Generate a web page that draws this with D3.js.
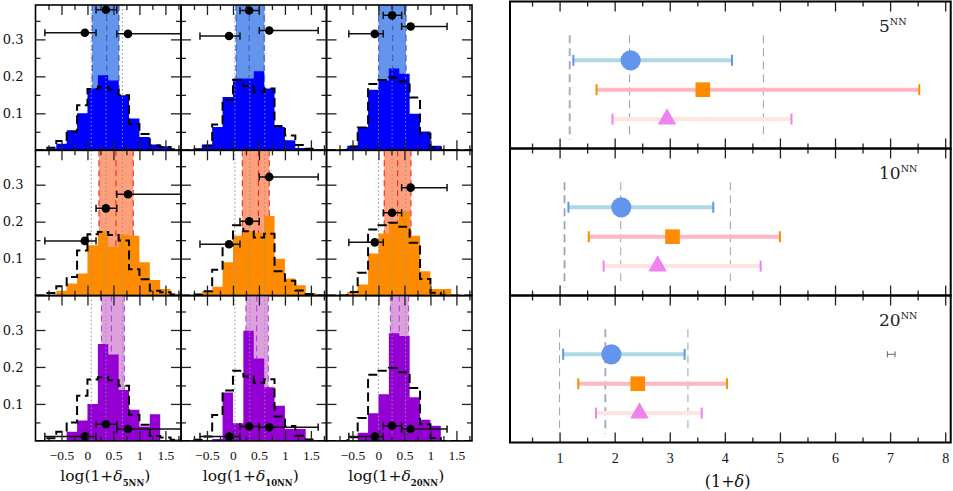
<!DOCTYPE html>
<html>
<head>
<meta charset="utf-8">
<script src="https://cdn.jsdelivr.net/npm/d3@7/dist/d3.min.js"></script>
<style>
html,body{margin:0;padding:0;background:#fff;}
svg{display:block;}
</style>
</head>
<body>
<svg id="chart" width="953" height="491"></svg>
<script>
// ================= DATA =================
const binStarts = [-1.0,-0.8,-0.6,-0.4,-0.2,0.0,0.2,0.4,0.6,0.8,1.0,1.2,1.4,1.6];
const binWidth = 0.2;
const neighbourLabels = ["5NN","10NN","20NN"];
const rowTagNumbers = ["5","10","20"];

// filled histograms (fraction per bin)
const histBlue5NN    = [0,0.005,0.018,0.054,0.100,0.167,0.203,0.189,0.149,0.086,0.036,0.016,0.011,0.002];
const histBlue10NN   = [0,0.002,0.016,0.063,0.144,0.194,0.194,0.214,0.167,0.063,0.027,0.006,0.003,0];
const histBlue20NN   = [0,0,0.012,0.063,0.164,0.189,0.221,0.207,0.099,0.051,0.012,0.003,0,0];
const histOrange5NN  = [0,0.002,0.013,0.033,0.060,0.136,0.174,0.132,0.165,0.162,0.090,0.042,0.018,0.005];
const histOrange10NN = [0,0,0.012,0.024,0.090,0.162,0.175,0.170,0.215,0.100,0.046,0.028,0.007,0.003];
const histOrange20NN = [0,0,0.010,0.030,0.114,0.168,0.200,0.228,0.162,0.066,0.018,0.018,0,0];
const histViolet5NN  = [0,0,0,0.025,0.055,0.100,0.262,0.234,0.138,0.084,0.039,0.072,0,0.004];
const histViolet10NN = [0,0,0,0.005,0.131,0.048,0.298,0.223,0.145,0.095,0.032,0.032,0,0];
const histViolet20NN = [0,0,0,0.022,0.075,0.126,0.291,0.284,0.118,0.057,0.041,0,0,0];
// dashed (whole sample) histograms, one per column
const histAll5NN  = [0,0.007,0.025,0.050,0.122,0.166,0.172,0.164,0.149,0.071,0.044,0.013,0.009,0.003];
const histAll10NN = [0,0.003,0.012,0.070,0.136,0.190,0.174,0.157,0.167,0.066,0.040,0.014,0.004,0];
const histAll20NN = [0,0,0.010,0.062,0.179,0.190,0.197,0.186,0.143,0.045,0.008,0,0,0];

// shaded bands (log units) per row, columns 5NN/10NN/20NN
const bandBlueLo   = [0.092,0.058,0.004];
const bandBlueMid  = [0.369,0.313,0.273];
const bandBlueHi   = [0.606,0.602,0.530];
const bandOrangeLo = [0.221,0.180,0.111];
const bandOrangeMid= [0.548,0.490,0.369];
const bandOrangeHi = [0.881,0.698,0.625];
const bandVioletLo = [0.270,0.250,0.230];
const bandVioletMid= [0.460,0.456,0.400];
const bandVioletHi = [0.710,0.680,0.580];

// black points: x position and x-range per column (low / mid / high)
const ptX5NN  = [-0.050,0.355,0.780];
const ptLo5NN = [-0.820,0.165,0.565];
const ptHi5NN = [0.165,0.565,1.950];
const ptX10NN  = [-0.075,0.312,0.698];
const ptLo10NN = [-0.635,0.135,0.506];
const ptHi10NN = [0.135,0.506,1.640];
const ptX20NN  = [-0.070,0.262,0.619];
const ptLo20NN = [-0.570,0.092,0.446];
const ptHi20NN = [0.092,0.446,1.320];
// point heights per panel
const ptYBlue5NN    = [0.318,0.380,0.315];
const ptYBlue10NN   = [0.309,0.378,0.324];
const ptYBlue20NN   = [0.315,0.365,0.335];
const ptYOrange5NN  = [0.148,0.236,0.274];
const ptYOrange10NN = [0.139,0.201,0.321];
const ptYOrange20NN = [0.144,0.224,0.292];
const ptYViolet5NN  = [0.012,0.045,0.032];
const ptYViolet10NN = [0.012,0.039,0.037];
const ptYViolet20NN = [0.012,0.041,0.032];

// right panel (1+delta)
const densCircle    = [2.29,2.12,1.94];
const densCircleLo  = [1.25,1.16,1.065];
const densCircleHi  = [4.13,3.79,3.27];
const densSquare    = [3.60,3.05,2.42];
const densSquareLo  = [1.67,1.53,1.34];
const densSquareHi  = [7.53,5.00,4.04];
const densTriangle  = [2.95,2.78,2.45];
const densTriangleLo= [1.96,1.80,1.66];
const densTriangleHi= [5.21,4.65,3.58];
const refLo    = [1.185,1.09,1.00];
const refMid   = [2.27,2.11,1.83];
const refHi    = [4.70,4.10,3.33];
const refThick = [1.185,1.09,1.83];
const typErrX = [7.02], typErrLo = [6.95], typErrHi = [7.09];

// ticks
const xTickMajorLeft  = [-0.5,0,0.5,1,1.5];
const xTickMinorLeft  = [-0.75,-0.25,0.25,0.75,1.25,1.75];
const yTickMajorLeft  = [0.1,0.2,0.3];
const yTickMinorLeft  = [0.05,0.15,0.25,0.35];
const xTickMajorRight = [1,2,3,4,5,6,7,8];
const xTickMinorRight = [0.5,1.5,2.5,3.5,4.5,5.5,6.5,7.5];

// ================= STYLE / LAYOUT =================
const FONT = "'DejaVu Serif', 'Liberation Serif', serif";
const TICKFONT = "'Liberation Serif', 'DejaVu Serif', serif";
const rowFill     = ["#0000ff","#ff8c00","#9400d3"];
const rowBand     = ["#6495ed","#ffa07a","#dda0dd"];
const rowBandLine = ["#2f4fd6","#e8282b","#b040e0"];

const fillHists = [[histBlue5NN,histBlue10NN,histBlue20NN],
                   [histOrange5NN,histOrange10NN,histOrange20NN],
                   [histViolet5NN,histViolet10NN,histViolet20NN]];
const allHists = [histAll5NN,histAll10NN,histAll20NN];
const bandLo  = [bandBlueLo,bandOrangeLo,bandVioletLo];
const bandMid = [bandBlueMid,bandOrangeMid,bandVioletMid];
const bandHi  = [bandBlueHi,bandOrangeHi,bandVioletHi];
const ptX  = [ptX5NN,ptX10NN,ptX20NN];
const ptLo = [ptLo5NN,ptLo10NN,ptLo20NN];
const ptHi = [ptHi5NN,ptHi10NN,ptHi20NN];
const ptY  = [[ptYBlue5NN,ptYBlue10NN,ptYBlue20NN],
              [ptYOrange5NN,ptYOrange10NN,ptYOrange20NN],
              [ptYViolet5NN,ptYViolet10NN,ptYViolet20NN]];

const svg = d3.select("#chart");
const defs = svg.append("defs");

const LX0 = 35.5, LW = 145.5, LY0 = 5, LH = 145.3;
const XDOM = [-1, 1.8], YDOM = [0, 0.393];

const fmtLeftX = d => d === 0 ? "0" : String(d).replace("-", "\u2212");

function styleAxis(g, fs, fam) {
  g.select(".domain").remove();
  g.attr("font-family", fam || TICKFONT).attr("font-size", fs).attr("color", "#222");
  g.selectAll(".tick line").attr("stroke-width", 1.3);
  g.selectAll(".tick text").attr("fill", "#111");
}

for (let r = 0; r < 3; r++) {
  for (let c = 0; c < 3; c++) {
    const x = d3.scaleLinear().domain(XDOM).range([LX0 + c * LW, LX0 + (c + 1) * LW]);
    const y = d3.scaleLinear().domain(YDOM).range([LY0 + (r + 1) * LH, LY0 + r * LH]);
    const g = svg.append("g");
    const clipId = "clip" + r + c;
    defs.append("clipPath").attr("id", clipId).append("rect")
      .attr("x", x(XDOM[0])).attr("y", y(YDOM[1]))
      .attr("width", x(XDOM[1]) - x(XDOM[0])).attr("height", y(YDOM[0]) - y(YDOM[1]));
    const inner = g.append("g").attr("clip-path", "url(#" + clipId + ")");

    // band
    inner.append("rect")
      .attr("x", x(bandLo[r][c])).attr("width", x(bandHi[r][c]) - x(bandLo[r][c]))
      .attr("y", y(YDOM[1])).attr("height", y(YDOM[0]) - y(YDOM[1]))
      .attr("fill", rowBand[r]);
    [bandLo[r][c], bandMid[r][c], bandHi[r][c]].forEach(v => {
      inner.append("line").attr("x1", x(v)).attr("x2", x(v))
        .attr("y1", y(YDOM[1])).attr("y2", y(0))
        .attr("stroke", rowBandLine[r]).attr("stroke-width", 1.1)
        .attr("stroke-dasharray", "6,4");
    });

    // filled histogram
    const vals = fillHists[r][c];
    const pts = binStarts.map((b, i) => ({x: b, v: vals[i]}));
    pts.push({x: binStarts[binStarts.length - 1] + binWidth, v: vals[vals.length - 1]});
    inner.append("path").datum(pts)
      .attr("d", d3.area().x(d => x(d.x)).y0(y(0)).y1(d => y(d.v)).curve(d3.curveStepAfter))
      .attr("fill", rowFill[r]);

    // dotted reference lines (log of right panel reference values)
    [refLo[c], refMid[c], refHi[c]].forEach(v => {
      const lv = Math.log10(v);
      inner.append("line").attr("x1", x(lv)).attr("x2", x(lv))
        .attr("y1", y(YDOM[1])).attr("y2", y(0))
        .attr("stroke", "#8795a8").attr("stroke-width", 1)
        .attr("stroke-dasharray", "1.5,2.5");
    });

    // dashed whole-sample histogram
    const avals = allHists[c];
    const apts = binStarts.map((b, i) => ({x: b, v: avals[i]}));
    apts.push({x: binStarts[binStarts.length - 1] + binWidth, v: avals[avals.length - 1]});
    inner.append("path").datum(apts)
      .attr("d", d3.line().x(d => x(d.x)).y(d => y(d.v)).curve(d3.curveStepAfter))
      .attr("fill", "none").attr("stroke", "#000").attr("stroke-width", 2)
      .attr("stroke-dasharray", "9,4.5");

    // points with error bars
    for (let k = 0; k < 3; k++) {
      const yy = y(ptY[r][c][k]);
      const x1 = x(ptLo[c][k]), x2 = x(ptHi[c][k]);
      inner.append("line").attr("x1", x1).attr("x2", x2).attr("y1", yy).attr("y2", yy)
        .attr("stroke", "#111").attr("stroke-width", 1.5);
      [x1, x2].forEach(xc => inner.append("line").attr("x1", xc).attr("x2", xc)
        .attr("y1", yy - 3.6).attr("y2", yy + 3.6).attr("stroke", "#111").attr("stroke-width", 1.5));
      inner.append("circle").attr("cx", x(ptX[c][k])).attr("cy", yy).attr("r", 4.3).attr("fill", "#000");
    }

    // axes (ticks inside)
    const bot = g.append("g").attr("transform", "translate(0," + y(0) + ")")
      .call(d3.axisBottom(x).tickValues(xTickMajorLeft).tickSize(-10).tickPadding(10)
        .tickFormat(r === 2 ? fmtLeftX : () => ""));
    styleAxis(bot, 13.5);
    styleAxis(g.append("g").attr("transform", "translate(0," + y(0) + ")")
      .call(d3.axisBottom(x).tickValues(xTickMinorLeft).tickSize(-5).tickFormat(() => "")), 11);
    styleAxis(g.append("g").attr("transform", "translate(0," + y(YDOM[1]) + ")")
      .call(d3.axisTop(x).tickValues(xTickMajorLeft).tickSize(-10).tickFormat(() => "")), 11);
    styleAxis(g.append("g").attr("transform", "translate(0," + y(YDOM[1]) + ")")
      .call(d3.axisTop(x).tickValues(xTickMinorLeft).tickSize(-5).tickFormat(() => "")), 11);
    const lft = g.append("g").attr("transform", "translate(" + x(XDOM[0]) + ",0)")
      .call(d3.axisLeft(y).tickValues(yTickMajorLeft).tickSize(-10).tickPadding(12)
        .tickFormat(c === 0 ? d3.format(".1f") : () => ""));
    styleAxis(lft, 13, FONT);
    styleAxis(g.append("g").attr("transform", "translate(" + x(XDOM[0]) + ",0)")
      .call(d3.axisLeft(y).tickValues(yTickMinorLeft).tickSize(-5).tickFormat(() => "")), 11);
    styleAxis(g.append("g").attr("transform", "translate(" + x(XDOM[1]) + ",0)")
      .call(d3.axisRight(y).tickValues(yTickMajorLeft).tickSize(-10).tickFormat(() => "")), 11);
    styleAxis(g.append("g").attr("transform", "translate(" + x(XDOM[1]) + ",0)")
      .call(d3.axisRight(y).tickValues(yTickMinorLeft).tickSize(-5).tickFormat(() => "")), 11);

    // frame
    g.append("rect").attr("x", x(XDOM[0])).attr("y", y(YDOM[1]))
      .attr("width", x(XDOM[1]) - x(XDOM[0])).attr("height", y(YDOM[0]) - y(YDOM[1]))
      .attr("fill", "none").attr("stroke", "#000").attr("stroke-width", 1.6);

    // x title under bottom row
    if (r === 2) {
      const t = svg.append("text").attr("x", (x(XDOM[0]) + x(XDOM[1])) / 2 - 3).attr("y", 481)
        .attr("text-anchor", "middle").attr("font-family", FONT).attr("font-size", 15.5).attr("fill", "#111");
      t.append("tspan").text("log(1+");
      t.append("tspan").attr("font-style", "italic").text("\u03b4");
      t.append("tspan").attr("font-size", 8.5).attr("font-weight", "bold").attr("dy", 4.5).text(neighbourLabels[c]);
      t.append("tspan").attr("dy", -4.5).text(")");
    }
  }
}

// ================= RIGHT PANEL =================
const RX0 = 510, RX1 = 950.7, RY0 = 1.5, RH = 147;
const xr = d3.scaleLinear().domain([0.1, 8.1]).range([RX0, RX1]);
const markerSpecs = [
  {val: densCircle, lo: densCircleLo, hi: densCircleHi, level: 3, bar: "#add8e6", cap: "#6495ed", fill: "#6495ed", sym: d3.symbolCircle, size: 320},
  {val: densSquare, lo: densSquareLo, hi: densSquareHi, level: 2, bar: "#ffb6c1", cap: "#ff8c00", fill: "#ff8c00", sym: d3.symbolSquare, size: 215},
  {val: densTriangle, lo: densTriangleLo, hi: densTriangleHi, level: 1, bar: "#ffe4e1", cap: "#ee82ee", fill: "#ee82ee", sym: d3.symbolTriangle, size: 150}
];

for (let r = 0; r < 3; r++) {
  const yr = d3.scaleLinear().domain([0, 5]).range([RY0 + (r + 1) * RH, RY0 + r * RH]);
  const g = svg.append("g");

  // reference dashed lines
  g.append("line").attr("x1", xr(refThick[r])).attr("x2", xr(refThick[r]))
    .attr("y1", yr(3.85)).attr("y2", yr(0.3))
    .attr("stroke", "#d2d6da").attr("stroke-width", 2.6).attr("stroke-dasharray", "8,5");
  [refLo[r], refMid[r], refHi[r]].forEach(v => {
    g.append("line").attr("x1", xr(v)).attr("x2", xr(v))
      .attr("y1", yr(3.85)).attr("y2", yr(0.3))
      .attr("stroke", "#9aa2aa").attr("stroke-width", 1).attr("stroke-dasharray", "8,5");
  });

  markerSpecs.forEach(m => {
    const yy = yr(m.level);
    g.append("line").attr("x1", xr(m.lo[r])).attr("x2", xr(m.hi[r])).attr("y1", yy).attr("y2", yy)
      .attr("stroke", m.bar).attr("stroke-width", 4);
    [m.lo[r], m.hi[r]].forEach(v => g.append("line").attr("x1", xr(v)).attr("x2", xr(v))
      .attr("y1", yy - 5.5).attr("y2", yy + 5.5).attr("stroke", m.cap).attr("stroke-width", 2));
    g.append("path").attr("d", d3.symbol().type(m.sym).size(m.size)())
      .attr("transform", "translate(" + xr(m.val[r]) + "," + yy + ")").attr("fill", m.fill);
  });

  if (r === 2) {
    const yy = yr(3);
    typErrX.forEach((v, i) => {
      g.append("line").attr("x1", xr(typErrLo[i])).attr("x2", xr(typErrHi[i])).attr("y1", yy).attr("y2", yy)
        .attr("stroke", "#666").attr("stroke-width", 1);
      [typErrLo[i], typErrHi[i]].forEach(e => g.append("line").attr("x1", xr(e)).attr("x2", xr(e))
        .attr("y1", yy - 3).attr("y2", yy + 3).attr("stroke", "#666").attr("stroke-width", 1));
    });
  }

  // ticks
  const bot = g.append("g").attr("transform", "translate(0," + yr(0) + ")")
    .call(d3.axisBottom(xr).tickValues(xTickMajorRight).tickSize(-10).tickPadding(11)
      .tickFormat(r === 2 ? d3.format("d") : () => ""));
  styleAxis(bot, 14);
  styleAxis(g.append("g").attr("transform", "translate(0," + yr(0) + ")")
    .call(d3.axisBottom(xr).tickValues(xTickMinorRight).tickSize(-5).tickFormat(() => "")), 11);
  styleAxis(g.append("g").attr("transform", "translate(0," + yr(5) + ")")
    .call(d3.axisTop(xr).tickValues(xTickMajorRight).tickSize(-10).tickFormat(() => "")), 11);
  styleAxis(g.append("g").attr("transform", "translate(0," + yr(5) + ")")
    .call(d3.axisTop(xr).tickValues(xTickMinorRight).tickSize(-5).tickFormat(() => "")), 11);

  g.append("rect").attr("x", RX0).attr("y", yr(5)).attr("width", RX1 - RX0).attr("height", yr(0) - yr(5))
    .attr("fill", "none").attr("stroke", "#000").attr("stroke-width", 2);

  const t = g.append("text").attr("x", 879).attr("y", yr(5) + 30)
    .attr("font-family", FONT).attr("font-size", 17).attr("fill", "#222");
  t.append("tspan").text(rowTagNumbers[r]);
  t.append("tspan").attr("font-size", 9.5).attr("dy", -7).text("NN");
}

const tr = svg.append("text").attr("x", xr(4.05)).attr("y", 487).attr("text-anchor", "middle")
  .attr("font-family", FONT).attr("font-size", 16).attr("fill", "#111");
tr.append("tspan").text("(1+");
tr.append("tspan").attr("font-style", "italic").text("\u03b4");
tr.append("tspan").text(")");
</script>
</body>
</html>
